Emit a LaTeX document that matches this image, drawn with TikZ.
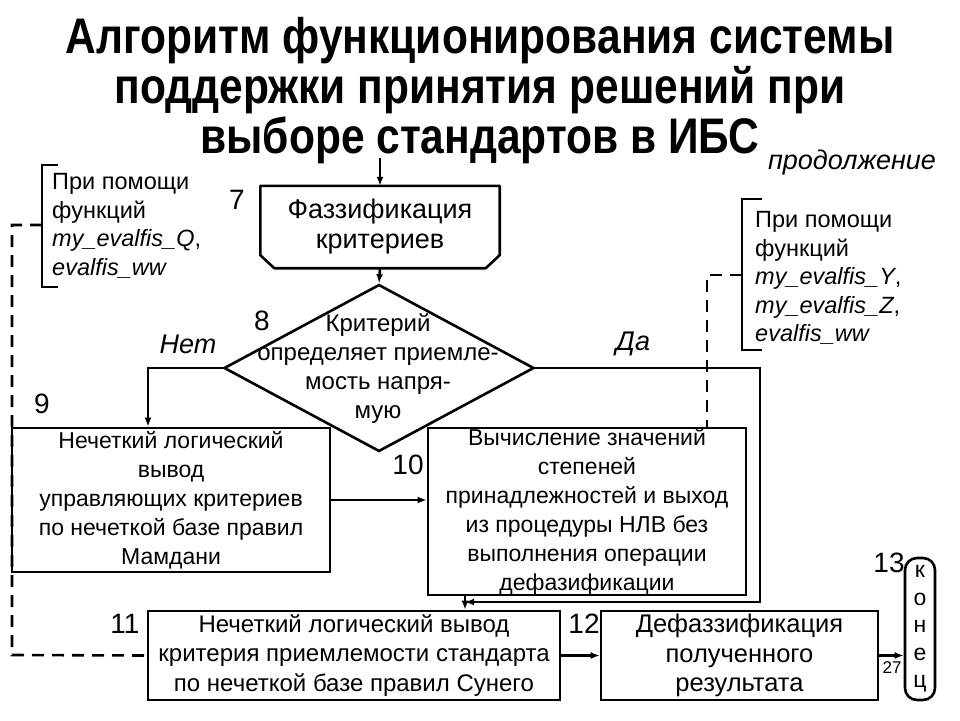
\documentclass[tikz,border=0pt]{standalone}
\usepackage{fontspec}
\setmainfont{Liberation Sans}
\newfontfamily\titlefont[FakeStretch=0.85]{Liberation Sans}
\usetikzlibrary{shapes.geometric,arrows.meta,calc}
\tikzstyle{block}=[draw,line width=2.6pt,inner sep=0pt,align=center,font=\fontsize{23}{29}\selectfont]
\tikzstyle{txt}=[inner sep=0pt,align=center,font=\fontsize{24}{29}\selectfont]
\tikzstyle{note}=[inner sep=0pt,align=left,anchor=west,font=\fontsize{23.5}{28.5}\selectfont]
\tikzstyle{numlabel}=[inner sep=0pt,font=\fontsize{28}{28}\selectfont]
\tikzstyle{branch}=[inner sep=0pt,font=\fontsize{27}{27}\itshape\selectfont]
\tikzstyle{arr}=[line width=2.6pt,-{Latex[length=9pt,width=7pt]}]
\tikzstyle{dashline}=[line width=2.6pt,dash pattern=on 12pt off 8pt]
\tikzstyle{bracket}=[line width=2.6pt]
\newcommand{\blocknum}[2]{\node[numlabel] (n#1) at (#2) {#1};}
\begin{document}
\begin{tikzpicture}[x=1pt,y=-1pt]
\useasboundingbox (0,0) rectangle (960,720);
% title
\node[inner sep=0pt,align=center,font=\titlefont\fontsize{50}{50}\bfseries\selectfont] (title) at (480,91)
  {Алгоритм функционирования системы\\поддержки принятия решений при\\выборе стандартов в ИБС};
\node[inner sep=0pt,font=\fontsize{27}{27}\itshape\selectfont] (cont) at (852,163) {продолжение};

% 7
\node[minimum width=239pt,minimum height=82pt,inner sep=0pt] (fuzz) at (380,227) {};
\draw[line width=2.6pt,line join=round] (fuzz.north west) -- (fuzz.north east) -- ($(fuzz.south east)+(0,-13)$)
  -- ($(fuzz.south east)+(-14,0)$) -- ($(fuzz.south west)+(14,0)$) -- ($(fuzz.south west)+(0,-13)$) -- cycle;
\node[txt,font=\fontsize{27}{30}\selectfont] (fuzztext) at (fuzz.center) {Фаззификация\\критериев};
\blocknum{7}{237,200}

% 8
\node[diamond,draw,line width=2.6pt,minimum width=310pt,minimum height=167pt,inner sep=0pt] (crit) at (379,368) {};
\node[txt] (crittext) at (378,369) {Критерий\\определяет приемле-\\мость напря-\\мую};
\blocknum{8}{262,321}
\node[branch] (no) at (188,344) {Нет};
\node[branch] (yes) at (633,344) {Да};

% 9, 10
\node[block,minimum width=318pt,minimum height=144pt] (mamdani) at (171,500)
  {Нечеткий логический\\вывод\\управляющих критериев\\по нечеткой базе правил\\Мамдани};
\blocknum{9}{42,404}
\node[block,minimum width=318pt,minimum height=165pt] (calc) at (587,511.5)
  {Вычисление значений\\степеней\\принадлежностей и выход\\из процедуры НЛВ без\\выполнения операции\\дефазификации};
\blocknum{10}{408,465}

% 11, 12, 13
\node[block,font=\fontsize{24}{29.5}\selectfont,minimum width=412pt,minimum height=89pt] (sugeno) at (354,655.5)
  {Нечеткий логический вывод\\критерия приемлемости стандарта\\по нечеткой базе правил Сунего};
\blocknum{11}{125,624}
\node[block,font=\fontsize{25.5}{29.5}\selectfont,minimum width=277pt,minimum height=89pt] (defuzz) at (739.5,655.5)
  {Дефаззификация\\полученного\\результата};
\blocknum{12}{584,624}
\node[draw,line width=2.6pt,rounded corners=12pt,minimum width=30pt,minimum height=142pt,inner sep=0pt,
  align=center,font=\fontsize{23}{27.5}\selectfont] (konec) at (920,629) {к\\о\\н\\е\\ц};
\blocknum{13}{889,563}
\node[inner sep=0pt,font=\fontsize{17}{17}\selectfont] (slide) at (892,668) {27};

% notes
\draw[bracket] (58,165) -- (42,165) -- (42,287) -- (58,287);
\node[note] (noteq) at (52,226) {При помощи\\функций\\\textit{my\_evalfis\_Q},\\\textit{evalfis\_ww}};
\draw[bracket] (762,199) -- (742,199) -- (742,350) -- (762,350);
\node[note] (noteyz) at (755,278) {При помощи\\функций\\\textit{my\_evalfis\_Y},\\\textit{my\_evalfis\_Z},\\\textit{evalfis\_ww}};
\coordinate (lbr) at (42,225);
\coordinate (rbr) at (742,275);
\coordinate (join) at (465,602);

% connectors
\coordinate (start) at (380,158);
\draw[arr] (start) -- (fuzz.north);
\draw[arr] (fuzz.south) -- (crit.north);
\draw[arr] (crit.west) -| ([xshift=-23pt]mamdani.north);
\draw[arr] (crit.east) -| (760,602) -- (join);
\draw[arr] (calc.south -| join) -- (sugeno.north -| join);
\draw[arr] (mamdani.east) -- (mamdani.east -| calc.west);
\draw[arr] (sugeno.east) -- (defuzz.west);
\draw[arr] (defuzz.east) -- (defuzz.east -| konec.west);
\draw[dashline] (lbr) -| (12,655) -- (sugeno.west);
\draw[dashline] (rbr) -| ([xshift=120pt]calc.north);
\end{tikzpicture}
\end{document}
